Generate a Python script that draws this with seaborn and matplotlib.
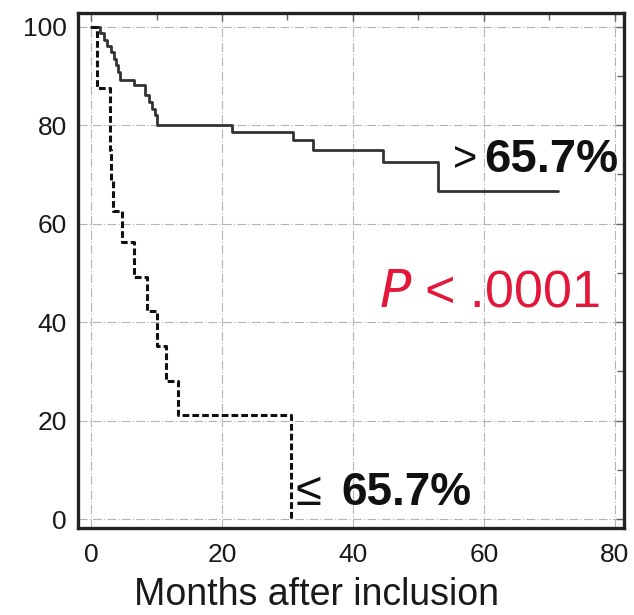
import matplotlib
matplotlib.use("Agg")
import matplotlib.pyplot as plt
import seaborn as sns
import pandas as pd
from matplotlib.ticker import MultipleLocator

# Kaplan-Meier estimates (percent) for the two groups, step-post at event times
high_months = [0, 1.4, 2.0, 2.5, 3.0, 3.5, 3.8, 4.1, 4.4, 6.5, 8.2, 8.8, 9.3, 9.7,
               10.0, 21.5, 30.8, 33.9, 44.6, 53.0, 71.3]
high_surv = [100, 98.7, 97.4, 96.1, 94.8, 93.5, 92.2, 90.9, 89.2, 88.2, 86.2, 84.8,
             83.4, 82.0, 80.1, 78.7, 77.0, 75.0, 72.6, 66.7, 66.7]

low_months = [0, 0.9, 2.9, 3.1, 3.4, 4.7, 6.6, 8.6, 10.0, 11.5, 13.3, 30.6]
low_surv = [100, 87.5, 75.0, 68.75, 62.5, 56.25, 49.2, 42.2, 35.2, 28.1, 21.1, 0]

x_ticks = [0, 20, 40, 60, 80]
y_ticks = [0, 20, 40, 60, 80, 100]
high_label = "65.7%"
low_label = "65.7%"
p_label = ".0001"
x_title = "Months after inclusion"

sns.set_theme(style="white")
plt.rcParams["font.family"] = ["Liberation Sans", "DejaVu Sans"]

fig = plt.figure(figsize=(6.34, 6.15), dpi=100)
ax = fig.add_axes([78 / 634, 1 - 528 / 615, (624 - 78) / 634, (528 - 13) / 615])

df_high = pd.DataFrame({"months": high_months, "survival": high_surv})
df_low = pd.DataFrame({"months": low_months, "survival": low_surv})

sns.lineplot(data=df_high, x="months", y="survival", ax=ax, drawstyle="steps-post",
             estimator=None, sort=False, color="#333333", linewidth=2.0, zorder=3)
sns.lineplot(data=df_low, x="months", y="survival", ax=ax, drawstyle="steps-post",
             estimator=None, sort=False, color="#111111", linewidth=2.2,
             linestyle=(0, (2.2, 1.0)), zorder=3)

ax.set_xlim(-2.0, 81.4)
ax.set_ylim(-1.8, 102.8)
ax.set_xticks(x_ticks)
ax.set_yticks(y_ticks)
ax.xaxis.set_minor_locator(MultipleLocator(10))
ax.yaxis.set_minor_locator(MultipleLocator(10))
ax.tick_params(which="major", direction="in", length=6, width=1.0, color="#666666",
               labelsize=19, labelcolor="#1a1a1a")
ax.tick_params(axis="x", which="major", pad=11)
ax.tick_params(axis="y", which="major", pad=8)
ax.tick_params(which="minor", direction="in", length=5, width=1.0, color="#666666")
ax.tick_params(axis="both", which="both", top=True, right=True)

ax.grid(True, which="major", color="#b4b4b4", linewidth=0.8, linestyle=(0, (8, 2, 1, 2)))
for side, s in ax.spines.items():
    s.set_visible(True)
    s.set_color("#222222")
    s.set_linewidth(2.4)

ax.set_xlabel(x_title, fontsize=27, color="#1a1a1a", va="center")
ax.set_ylabel("")
ax.xaxis.set_label_coords((317 - 78) / 546, (528 - 595) / 515)

# Group labels
ax.text(55.3, 73.0, ">", fontsize=30, color="#111111", ha="left", va="center")
ax.text(60.0, 73.0, high_label, fontsize=34, fontweight="bold", color="#111111",
        ha="left", va="center")
ax.text(31.3, 5.3, "\u2264", fontsize=34, color="#111111", ha="left", va="center")
ax.text(38.2, 5.3, low_label, fontsize=33, fontweight="bold", color="#111111",
        ha="left", va="center")

# Log-rank result
ax.text(44.0, 46.0, "$P$ < " + p_label, fontsize=37.5, color="#e3173a",
        ha="left", va="center")

fig.savefig("out.png", dpi=100)
